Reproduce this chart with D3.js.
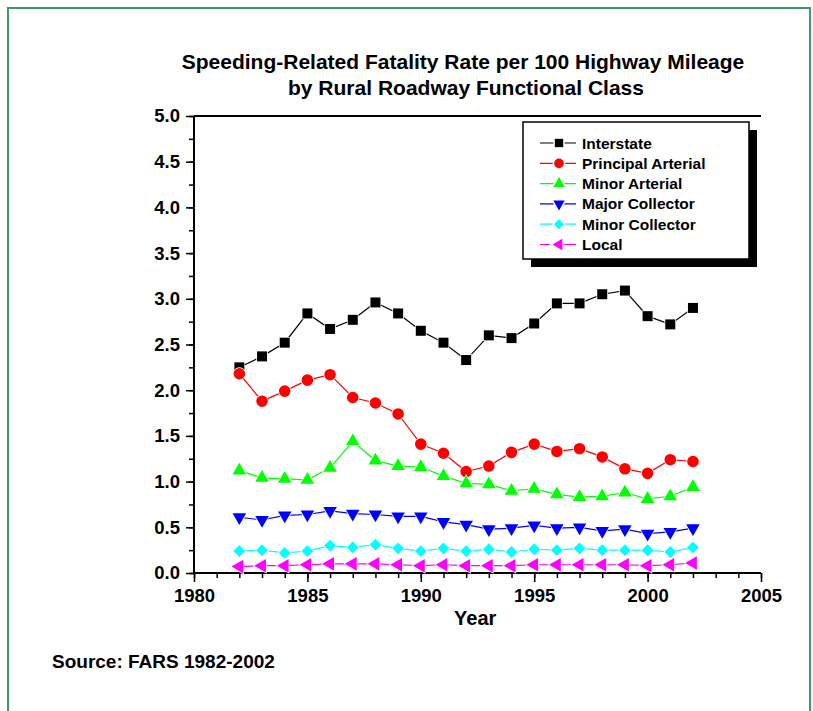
<!DOCTYPE html>
<html>
<head>
<meta charset="utf-8">
<script src="https://cdn.jsdelivr.net/npm/d3@7"></script>
<style>
  body { margin: 0; background: #fff; }
  text { font-family: "Liberation Sans", Arial, sans-serif; font-weight: bold; fill: #000; }
</style>
</head>
<body>
<div id="chart"></div>
<script>
const years = [1982, 1983, 1984, 1985, 1986, 1987, 1988, 1989, 1990, 1991, 1992,
               1993, 1994, 1995, 1996, 1997, 1998, 1999, 2000, 2001, 2002];

const interstate = [2.25, 2.37, 2.52, 2.84, 2.67, 2.77, 2.96, 2.84, 2.65, 2.52, 2.33,
                    2.60, 2.57, 2.73, 2.95, 2.95, 3.05, 3.09, 2.81, 2.72, 2.90];
const principalArterial = [2.18, 1.88, 1.99, 2.11, 2.17, 1.92, 1.86, 1.74, 1.41, 1.31, 1.11,
                           1.17, 1.32, 1.41, 1.33, 1.36, 1.27, 1.14, 1.09, 1.24, 1.22];
const minorArterial = [1.12, 1.04, 1.03, 1.02, 1.15, 1.44, 1.23, 1.17, 1.16, 1.06, 0.98,
                       0.97, 0.90, 0.92, 0.86, 0.83, 0.84, 0.88, 0.81, 0.84, 0.94];
const majorCollector = [0.61, 0.58, 0.63, 0.64, 0.68, 0.65, 0.64, 0.62, 0.62, 0.56, 0.53,
                        0.48, 0.49, 0.52, 0.49, 0.50, 0.46, 0.48, 0.43, 0.45, 0.49];
const minorCollector = [0.24, 0.25, 0.22, 0.24, 0.30, 0.28, 0.31, 0.27, 0.24, 0.27, 0.24,
                        0.26, 0.23, 0.26, 0.25, 0.27, 0.25, 0.25, 0.25, 0.23, 0.28];
const local = [0.07, 0.08, 0.08, 0.09, 0.10, 0.10, 0.10, 0.09, 0.08, 0.09, 0.08,
               0.08, 0.08, 0.09, 0.09, 0.09, 0.09, 0.09, 0.08, 0.09, 0.11];

const seriesNames = ["Interstate", "Principal Arterial", "Minor Arterial",
                     "Major Collector", "Minor Collector", "Local"];
const xTicks = [1980, 1985, 1990, 1995, 2000, 2005];
const yTicks = [0, 0.5, 1, 1.5, 2, 2.5, 3, 3.5, 4, 4.5, 5];

const series = [
  { name: seriesNames[0], values: interstate, color: "#000000", shape: d3.symbolSquare, size: 100, rot: 0 },
  { name: seriesNames[1], values: principalArterial, color: "#ff0000", shape: d3.symbolCircle, size: 105, rot: 0 },
  { name: seriesNames[2], values: minorArterial, color: "#00ff00", shape: d3.symbolTriangle, size: 80, rot: 0 },
  { name: seriesNames[3], values: majorCollector, color: "#0000ff", shape: d3.symbolTriangle, size: 80, rot: 180 },
  { name: seriesNames[4], values: minorCollector, color: "#00ffff", shape: d3.symbolSquare, size: 70, rot: 45 },
  { name: seriesNames[5], values: local, color: "#ff00ff", shape: d3.symbolTriangle, size: 80, rot: -90 }
];

const width = 813, height = 711;
const margin = { top: 116, right: 52, bottom: 138, left: 194 };
const w = width - margin.left - margin.right;
const h = height - margin.top - margin.bottom;

const svg = d3.select("#chart").append("svg")
  .attr("width", width)
  .attr("height", height);

// green frame
svg.append("rect")
  .attr("x", 8).attr("y", 8)
  .attr("width", 802).attr("height", 740)
  .attr("fill", "none")
  .attr("stroke", "#3d9a6b")
  .attr("stroke-width", 2);

// title
svg.append("text")
  .attr("x", 463).attr("y", 69)
  .attr("text-anchor", "middle")
  .style("font-size", "21px")
  .text("Speeding-Related Fatality Rate per 100 Highway Mileage");
svg.append("text")
  .attr("x", 466).attr("y", 95)
  .attr("text-anchor", "middle")
  .style("font-size", "21px")
  .text("by Rural Roadway Functional Class");

const g = svg.append("g")
  .attr("transform", `translate(${margin.left},${margin.top})`);

const x = d3.scaleLinear().domain([1980, 2005]).range([0, w]);
const y = d3.scaleLinear().domain([0, 5]).range([h, 0]);

// minor ticks
g.append("g")
  .attr("transform", `translate(0,${h})`)
  .call(d3.axisBottom(x).tickValues(d3.range(1980, 2006, 1)).tickSize(5).tickFormat(""))
  .call(a => a.select(".domain").remove())
  .selectAll("line").attr("stroke-width", 1.5);
g.append("g")
  .call(d3.axisLeft(y).tickValues(d3.range(0, 5.01, 0.25)).tickSize(5).tickFormat(""))
  .call(a => a.select(".domain").remove())
  .selectAll("line").attr("stroke-width", 1.5);

// major ticks + labels
const xAxis = g.append("g")
  .attr("transform", `translate(0,${h})`)
  .call(d3.axisBottom(x).tickValues(xTicks).tickSize(9).tickPadding(7).tickFormat(d3.format("d")));
xAxis.select(".domain").attr("stroke-width", 2).attr("d", `M0,0H${w}`);
xAxis.selectAll("line").attr("stroke-width", 1.5);
xAxis.selectAll("text").style("font-size", "18.5px");

const yAxis = g.append("g")
  .call(d3.axisLeft(y).tickValues(yTicks).tickSize(8).tickPadding(6).tickFormat(d3.format(".1f")));
yAxis.select(".domain").attr("stroke-width", 2).attr("d", `M0,${h}V0`);
yAxis.selectAll("line").attr("stroke-width", 1.5);
yAxis.selectAll("text").style("font-size", "18.5px");

// top frame line
g.append("line")
  .attr("x1", 0).attr("x2", w)
  .attr("y1", 0).attr("y2", 0)
  .attr("stroke", "#000").attr("stroke-width", 2);

// axis title
g.append("text")
  .attr("x", x(1992.4)).attr("y", h + 52)
  .attr("text-anchor", "middle")
  .style("font-size", "20px")
  .text("Year");

// lines and markers
const line = d3.line()
  .x((d, i) => x(years[i]))
  .y(d => y(d));

series.forEach(s => {
  g.append("path")
    .datum(s.values)
    .attr("fill", "none")
    .attr("stroke", s.color)
    .attr("stroke-width", 1.2)
    .attr("d", line);

  g.selectAll(null)
    .data(s.values)
    .enter().append("path")
    .attr("d", d3.symbol().type(s.shape).size(s.size))
    .attr("transform", (d, i) => `translate(${x(years[i])},${y(d)}) rotate(${s.rot})`)
    .attr("fill", s.color)
    .attr("stroke", "#fff")
    .attr("stroke-width", 1.5)
    .attr("paint-order", "stroke");
});

// legend
const lg = svg.append("g").attr("transform", "translate(523,122)");
lg.append("rect")
  .attr("x", 8).attr("y", 8)
  .attr("width", 226).attr("height", 137)
  .attr("fill", "#000");
lg.append("rect")
  .attr("x", 0).attr("y", 0)
  .attr("width", 226).attr("height", 137)
  .attr("fill", "#fff")
  .attr("stroke", "#000")
  .attr("stroke-width", 1.5);

series.forEach((s, i) => {
  const row = lg.append("g").attr("transform", `translate(0,${21 + i * 20.3})`);
  row.append("line")
    .attr("x1", 17).attr("x2", 53)
    .attr("y1", 0).attr("y2", 0)
    .attr("stroke", s.color).attr("stroke-width", 1.2);
  row.append("path")
    .attr("d", d3.symbol().type(s.shape).size(s.size * 0.7))
    .attr("transform", `translate(36,0) rotate(${s.rot})`)
    .attr("fill", s.color)
    .attr("stroke", "#fff")
    .attr("stroke-width", 3)
    .attr("paint-order", "stroke");
  row.append("text")
    .attr("x", 59).attr("y", 0)
    .attr("dy", "0.36em")
    .style("font-size", "15.5px")
    .text(s.name);
});

// source note
svg.append("text")
  .attr("x", 52).attr("y", 668)
  .style("font-size", "19px")
  .text("Source: FARS 1982-2002");
</script>
</body>
</html>
